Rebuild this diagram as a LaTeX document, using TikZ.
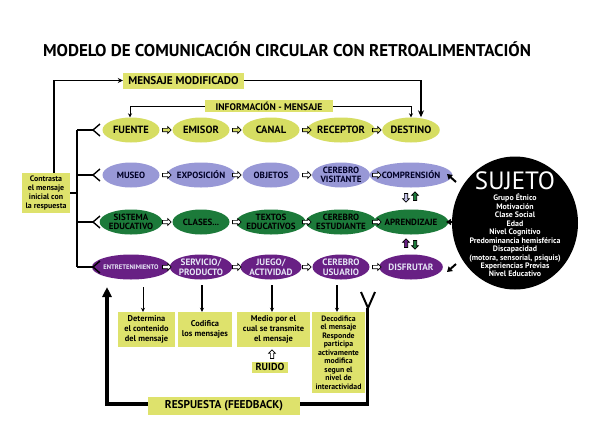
\documentclass[tikz,border=0pt]{standalone}
\usepackage{fontspec}
\setmainfont{PT Sans}
\usetikzlibrary{shapes.geometric,shapes.arrows,arrows.meta}
\definecolor{ylw}{RGB}{214,221,98}
\definecolor{lav}{RGB}{152,152,214}
\definecolor{grn}{RGB}{28,122,58}
\definecolor{pur}{RGB}{104,32,132}
\definecolor{boxy}{RGB}{222,226,108}
\newcommand\fs[2]{\fontsize{#1}{#2}\selectfont}
\begin{document}
\begin{tikzpicture}[x=1pt,y=-1pt,
  ell/.style={ellipse, minimum width=57pt, minimum height=25pt, inner sep=0pt, align=center},
  rowa/.style={ell, fill=ylw, font=\fs{10.5}{11}\bfseries},
  rowb/.style={ell, fill=lav, font=\fs{9}{9.4}\bfseries, text=black!85!blue},
  rowc/.style={ell, fill=grn, font=\fs{9}{9.4}\bfseries, text=black},
  rowd/.style={ell, fill=pur, font=\fs{9.2}{9.6}\bfseries, text=white!75!lav},
  harr/.style={single arrow, draw, line width=0.7pt, minimum height=8.5pt, inner sep=1.3pt, single arrow head extend=1.7pt, fill=white},
  ybox/.style={fill=boxy, align=center, inner sep=1pt},
  tbox/.style={ybox, font=\fs{8.4}{9.8}\bfseries},
  thickln/.style={line width=1.4pt},
  fbline/.style={line width=3.5pt},
  blk/.style={line width=2pt,-{Triangle[length=5pt,width=6pt]}}
]
\useasboundingbox (0,0) rectangle (590,424);
\fill[white] (0,0) rectangle (590,424);

% title
\node[font=\fs{17}{19}\bfseries] (title) at (287,49) {MODELO DE COMUNICACIÓN CIRCULAR CON RETROALIMENTACIÓN};

% row 1
\node[rowa] (a1) at (131,130) {FUENTE};
\node[rowa] (a2) at (201,130) {EMISOR};
\node[rowa] (a3) at (271,130) {CANAL};
\node[rowa] (a4) at (341,130) {RECEPTOR};
\node[rowa] (a5) at (411,130) {DESTINO};
% row 2
\node[rowb] (b1) at (131,175) {MUSEO};
\node[rowb] (b2) at (201,175) {EXPOSICIÓN};
\node[rowb] (b3) at (271,175) {OBJETOS};
\node[rowb] (b4) at (341,175) {CEREBRO\\VISITANTE};
\node[rowb] (b5) at (411,175) {COMPRENSIÓN};
% row 3
\node[rowc] (c1) at (131,222) {SISTEMA\\EDUCATIVO};
\node[rowc] (c2) at (201,222) {CLASES...};
\node[rowc] (c3) at (271,222) {TEXTOS\\EDUCATIVOS};
\node[rowc] (c4) at (341,222) {CEREBRO\\ESTUDIANTE};
\node[rowc] (c5) at (411,222) {APRENDIZAJE};
% row 4
\node[rowd, font=\fs{6.6}{7}\bfseries] (d1) at (131,267) {ENTRETENIMIENTO};
\node[rowd] (d2) at (201,267) {SERVICIO/\\PRODUCTO};
\node[rowd] (d3) at (271,267) {JUEGO/\\ACTIVIDAD};
\node[rowd] (d4) at (341,267) {CEREBRO\\USUARIO};
\node[rowd] (d5) at (411,267) {DISFRUTAR};

% hollow arrows between ellipses
\foreach \r/\yy/\ff in {a/130/ylw, b/175/white, c/222/white, d/267/white}{
  \foreach \xx [count=\i] in {166,236,306,376}{
    \node[harr, fill=\ff] (h\r\i) at (\xx,\yy) {};
  }
}

% vertical arrows between col5 rows
\node[harr, shape border rotate=270, fill=lav!60!white] (v1) at (406,197) {};
\node[harr, shape border rotate=90, fill=grn] (v2) at (415,197) {};
\node[harr, shape border rotate=90, fill=pur] (v3) at (406,244) {};
\node[harr, shape border rotate=270, fill=grn] (v4) at (415,244) {};

% top messages
\node[ybox, font=\fs{11.2}{12}\bfseries, minimum width=121pt, minimum height=16pt] (mm) at (183.5,80.5) {MENSAJE MODIFICADO};
\node[ybox, font=\fs{9.6}{10}\bfseries, minimum width=128pt, minimum height=12pt] (info) at (269,106) {INFORMACIÓN - MENSAJE};

% contrasta
\node[ybox, font=\fs{7.9}{8.7}\bfseries, minimum width=48pt, minimum height=40pt] (contr) at (46,193) {Contrasta\\el mensaje\\inicial con\\la respuesta};

\draw[thickln,-{Stealth[length=5pt,width=5pt]}] ([xshift=8pt]contr.north) |- (mm.west);
\draw[line width=1.6pt,-{Stealth[length=7pt,width=6pt]}] (mm.east) -| ([xshift=10pt]a5.north);
\draw[line width=0.8pt,-{Stealth[length=4pt,width=4pt]}] (info.west) -| ([xshift=-1pt]a1.north);
\draw[line width=0.8pt,-{Stealth[length=4pt,width=4pt]}] (info.east) -| (a5.north);

% bracket
\coordinate (brt) at (77,130);
\coordinate (brb) at (77,267);
\coordinate (brm) at (77,193);
\draw[thickln] (contr.east) -- (brm);
\draw[thickln] (brt) -- (brb);
\foreach \yy in {130,175,222,267}{
  \draw[thickln] (77,\yy) -- (93,\yy);
  \draw[thickln] (100,\yy-6) -- (93,\yy) -- (100,\yy+6);
}

% SUJETO
\node[ellipse, fill=black, minimum width=126pt, minimum height=133pt] (suj) at (515,223) {};
\node[text=white, font=\fs{25}{26}] (sujt) at (515,181) {SUJETO};
\node[text=white, align=center, font=\fs{7.9}{8.45}\bfseries] (sujl) at (515,235.5) {Grupo Étnico\\Motivación\\Clase Social\\Edad\\Nivel Cognitivo\\Predominancia hemisférica\\Discapacidad\\(motora, sensorial, psiquis)\\Experiencias Previas\\Nivel Educativo};

\coordinate (s1) at (456,182); \coordinate (t1) at (447,174);
\coordinate (s2) at (457,222); \coordinate (t2) at (446,222);
\coordinate (s3) at (456,264); \coordinate (t3) at (447,272);
\draw[blk] (s1) -- (t1);
\draw[blk] (s2) -- (t2);
\draw[blk] (s3) -- (t3);

% bottom boxes
\node[tbox, minimum width=57pt, minimum height=35pt] (k1) at (146.5,329.5) {Determina\\el contenido\\del mensaje};
\node[tbox, minimum width=54pt, minimum height=35pt] (k2) at (205,329.5) {Codifica\\los mensajes};
\node[tbox, minimum width=73pt, minimum height=35pt] (k3) at (273.5,329.5) {Medio por el\\cual se transmite\\el mensaje};
\node[ybox, font=\fs{7.8}{8.5}\bfseries, minimum width=53pt, minimum height=81pt] (k4) at (338.5,352.5) {Decodifica\\el mensaje\\Responde\\participa\\activamente\\modifica\\segun el\\nivel de\\interactividad};
\node[ybox, font=\fs{10.2}{11}\bfseries, minimum width=36pt, minimum height=11pt] (ruido) at (270,367) {RUIDO};
\node[harr, shape border rotate=90, fill=white] (rarr) at (272,355) {};

\coordinate (q1) at (143,287); \coordinate (q2) at (202,285); \coordinate (q3) at (272,285); \coordinate (q4) at (337,285);
\draw[line width=1pt,-{Stealth[length=4pt,width=4pt]}] (q1) -- (k1.north -| q1);
\draw[line width=1.4pt,-{Stealth[length=4pt,width=4pt]}] (q2) -- (k2.north -| q2);
\draw[line width=1.4pt,-{Stealth[length=4pt,width=4pt]}] (q3) -- (k3.north -| q3);
\draw[line width=1.4pt,-{Stealth[length=4pt,width=4pt]}] (q4) -- (k4.north -| q4);

% feedback
\node[ybox, font=\fs{11.3}{12}\bfseries, minimum width=152pt, minimum height=18pt] (resp) at (224,406) {RESPUESTA (FEEDBACK)};
\coordinate (fbl) at (107,287);
\coordinate (fbr) at (368,308);
\draw[fbline,-{Triangle[length=10pt,width=9pt]}] ([yshift=2pt]resp.west) -| (fbl);
\draw[fbline] ([yshift=2pt]resp.east) -| ([xshift=-0.5pt]fbr);
\draw[line width=2pt] (361,292) -- (fbr) -- (375,292);
\end{tikzpicture}
\end{document}
